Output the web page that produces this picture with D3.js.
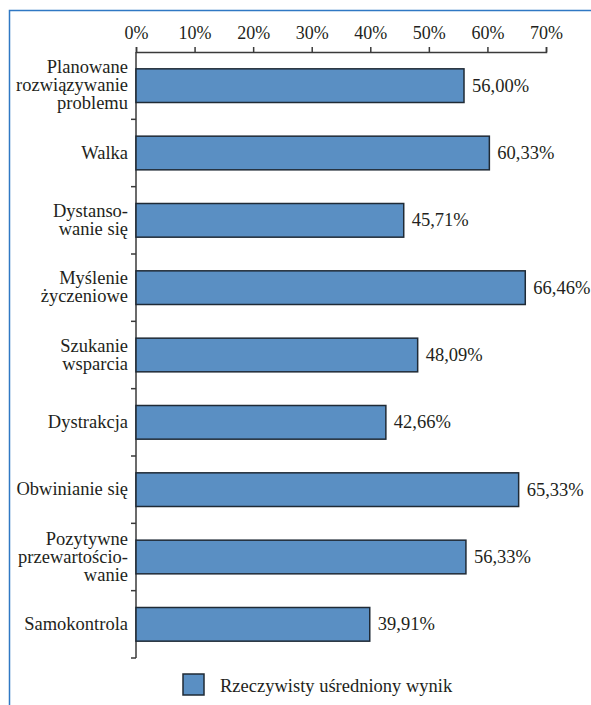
<!DOCTYPE html>
<html>
<head>
<meta charset="utf-8">
<script src="https://cdn.jsdelivr.net/npm/d3@7"></script>
</head>
<body style="margin:0;background:#fff">
<script>
var width = 591,
    height = 705,
    font = "Liberation Serif",
    ink = "#231f20";

// data
var categories = [
  ["Planowane", "rozwiązywanie", "problemu"],
  ["Walka"],
  ["Dystanso-", "wanie się"],
  ["Myślenie", "życzeniowe"],
  ["Szukanie", "wsparcia"],
  ["Dystrakcja"],
  ["Obwinianie się"],
  ["Pozytywne", "przewartościo-", "wanie"],
  ["Samokontrola"]
];
var values = [56.00, 60.33, 45.71, 66.46, 48.09, 42.66, 65.33, 56.33, 39.91];
var ticks = [0, 10, 20, 30, 40, 50, 60, 70];
var seriesName = "Rzeczywisty uśredniony wynik";

var fmt = function(v) { return v.toFixed(2).replace(".", ",") + "%"; };

var svg = d3.select("body").append("svg")
    .attr("width", width)
    .attr("height", height)
    .style("font-family", font);

// frame lines (top + left)
svg.append("path")
    .attr("d", "M9.5," + height + "V10.5H" + width)
    .attr("fill", "none")
    .attr("stroke", "#2f78c4")
    .attr("stroke-width", 1.5);

var x = d3.scaleLinear().domain([0, 70]).range([136, 546]);
var y = d3.scaleBand().domain(d3.range(values.length)).range([52, 658]).paddingInner(0.5).paddingOuter(0.25);

// x axis on top, ticks pointing up
var xAxis = svg.append("g")
    .attr("transform", "translate(0,52)")
    .call(d3.axisTop(x).tickValues(ticks).tickSize(5).tickPadding(8)
      .tickFormat(function(d) { return d + "%"; }));
xAxis.select(".domain").attr("stroke", "#3a3a3a").attr("stroke-width", 1.5);
xAxis.selectAll(".tick line").attr("stroke", "#3a3a3a").attr("stroke-width", 1.5);
xAxis.selectAll(".tick text")
    .style("font-family", font)
    .style("font-size", "18px")
    .attr("fill", ink);

// y axis: vertical line with ticks at band boundaries
var bounds = d3.range(values.length + 1).map(function(i) { return 52 + i * (606 / values.length); });
svg.append("line")
    .attr("x1", 136).attr("x2", 136)
    .attr("y1", 52).attr("y2", 658)
    .attr("stroke", "#3a3a3a").attr("stroke-width", 1.5);
svg.selectAll(".ytick")
    .data(bounds.slice(1))
    .enter().append("line")
    .attr("class", "ytick")
    .attr("x1", 131).attr("x2", 136)
    .attr("y1", function(d) { return d; })
    .attr("y2", function(d) { return d; })
    .attr("stroke", "#3a3a3a").attr("stroke-width", 1.5);

// bars
svg.selectAll(".bar")
    .data(values)
    .enter().append("rect")
    .attr("class", "bar")
    .attr("x", x(0))
    .attr("y", function(d, i) { return y(i); })
    .attr("width", function(d) { return x(d) - x(0); })
    .attr("height", y.bandwidth())
    .attr("fill", "#5a8fc3")
    .attr("stroke", "#1f2a35")
    .attr("stroke-width", 1.5);

// value labels
svg.selectAll(".val")
    .data(values)
    .enter().append("text")
    .attr("class", "val")
    .attr("x", function(d) { return x(d) + 8; })
    .attr("y", function(d, i) { return y(i) + y.bandwidth() / 2; })
    .attr("dy", "0.33em")
    .style("font-family", font)
    .style("font-size", "18.5px")
    .attr("fill", ink)
    .text(fmt);

// category labels
var lh = 18;
var cat = svg.selectAll(".cat")
    .data(categories)
    .enter().append("text")
    .attr("class", "cat")
    .attr("text-anchor", "end")
    .style("font-family", font)
    .style("font-size", "18.5px")
    .attr("fill", ink);
cat.each(function(lines, i) {
  var cy = y(i) + y.bandwidth() / 2;
  var y0 = cy - (lines.length - 1) * lh / 2;
  d3.select(this).selectAll("tspan")
    .data(lines)
    .enter().append("tspan")
    .attr("x", 128)
    .attr("y", function(d, j) { return y0 + j * lh; })
    .attr("dy", "0.3em")
    .text(function(d) { return d; });
});

// legend
var legend = svg.append("g").attr("transform", "translate(183,674)");
legend.append("rect")
    .attr("width", 21).attr("height", 21)
    .attr("fill", "#5a8fc3")
    .attr("stroke", "#1f2a35").attr("stroke-width", 1.5);
legend.append("text")
    .attr("x", 37).attr("y", 18)
    .style("font-family", font)
    .style("font-size", "18.5px")
    .attr("fill", ink)
    .text(seriesName);
</script>
</body>
</html>
